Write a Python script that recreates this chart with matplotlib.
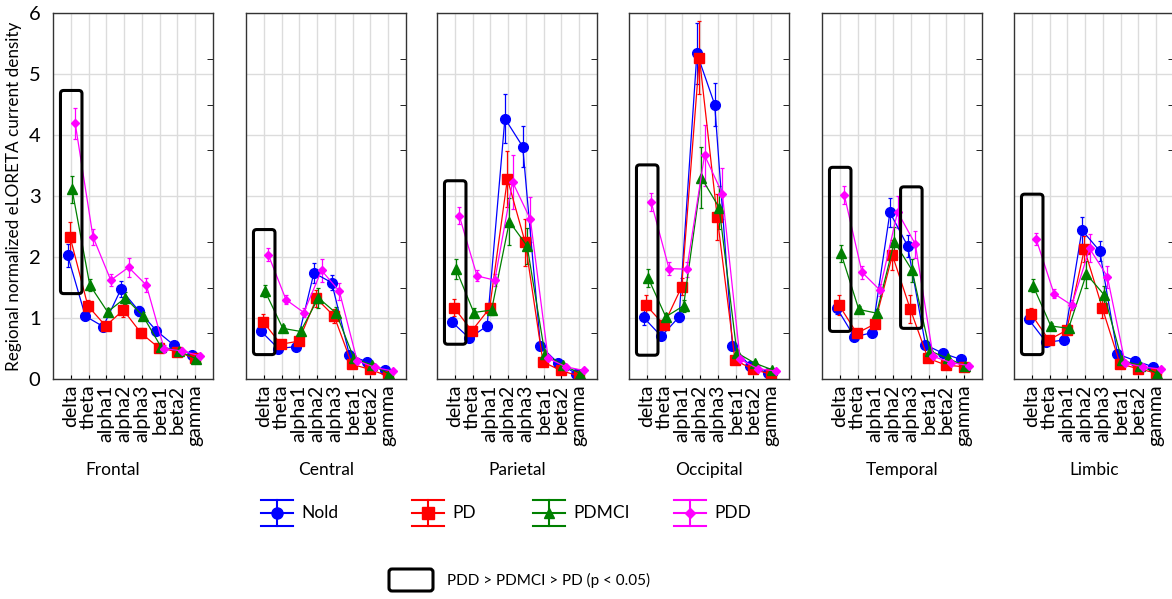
import numpy as np
import matplotlib
matplotlib.use("Agg")
import matplotlib.pyplot as plt
from matplotlib.patches import FancyBboxPatch

plt.rcParams['font.family'] = ['Lato', 'DejaVu Sans']

regions = ["Frontal", "Central", "Parietal", "Occipital", "Temporal", "Limbic"]
bands = ["delta", "theta", "alpha1", "alpha2", "alpha3", "beta1", "beta2", "gamma"]
groups = ["Nold", "PD", "PDMCI", "PDD"]

# means, one row per region
nold_mean = [
    [2.03, 1.03, 0.86, 1.47, 1.12, 0.79, 0.55, 0.40],
    [0.79, 0.50, 0.53, 1.74, 1.58, 0.39, 0.28, 0.14],
    [0.94, 0.67, 0.87, 4.27, 3.81, 0.54, 0.26, 0.09],
    [1.01, 0.70, 1.02, 5.34, 4.50, 0.54, 0.21, 0.10],
    [1.17, 0.69, 0.76, 2.73, 2.18, 0.56, 0.42, 0.32],
    [0.98, 0.60, 0.64, 2.44, 2.10, 0.41, 0.30, 0.20],
]
pd_mean = [
    [2.33, 1.20, 0.87, 1.13, 0.75, 0.51, 0.45, 0.34],
    [0.94, 0.57, 0.62, 1.32, 1.03, 0.24, 0.16, 0.05],
    [1.17, 0.79, 1.16, 3.28, 2.24, 0.28, 0.14, 0.05],
    [1.21, 0.89, 1.51, 5.27, 2.66, 0.31, 0.16, 0.08],
    [1.21, 0.75, 0.90, 2.03, 1.15, 0.34, 0.23, 0.20],
    [1.07, 0.64, 0.80, 2.13, 1.17, 0.25, 0.17, 0.10],
]
pdmci_mean = [
    [3.11, 1.54, 1.10, 1.33, 1.03, 0.53, 0.46, 0.33],
    [1.44, 0.83, 0.78, 1.33, 1.08, 0.34, 0.23, 0.08],
    [1.80, 1.09, 1.13, 2.58, 2.18, 0.41, 0.23, 0.09],
    [1.66, 1.02, 1.20, 3.30, 2.81, 0.43, 0.26, 0.15],
    [2.06, 1.14, 1.08, 2.25, 1.78, 0.46, 0.34, 0.21],
    [1.53, 0.87, 0.83, 1.72, 1.38, 0.31, 0.22, 0.09],
]
pdd_mean = [
    [4.19, 2.33, 1.62, 1.83, 1.54, 0.50, 0.46, 0.38],
    [2.04, 1.30, 1.09, 1.78, 1.44, 0.30, 0.19, 0.13],
    [2.68, 1.69, 1.62, 3.23, 2.62, 0.34, 0.20, 0.14],
    [2.90, 1.81, 1.80, 3.67, 3.04, 0.32, 0.17, 0.13],
    [3.02, 1.75, 1.46, 2.74, 2.21, 0.37, 0.27, 0.22],
    [2.29, 1.40, 1.21, 2.14, 1.68, 0.26, 0.20, 0.16],
]

# error bars (half length)
nold_err = [
    [0.19, 0.07, 0.05, 0.13, 0.08, 0.05, 0.04, 0.03],
    [0.06, 0.04, 0.05, 0.16, 0.12, 0.05, 0.03, 0.02],
    [0.07, 0.05, 0.08, 0.40, 0.33, 0.06, 0.03, 0.02],
    [0.12, 0.05, 0.08, 0.50, 0.36, 0.06, 0.03, 0.02],
    [0.10, 0.05, 0.05, 0.23, 0.18, 0.05, 0.03, 0.02],
    [0.07, 0.04, 0.05, 0.22, 0.17, 0.04, 0.03, 0.02],
]
pd_err = [
    [0.25, 0.10, 0.07, 0.12, 0.08, 0.05, 0.04, 0.03],
    [0.12, 0.06, 0.06, 0.14, 0.12, 0.04, 0.03, 0.02],
    [0.14, 0.07, 0.09, 0.46, 0.38, 0.05, 0.03, 0.02],
    [0.16, 0.08, 0.14, 0.60, 0.38, 0.05, 0.03, 0.02],
    [0.16, 0.06, 0.08, 0.25, 0.23, 0.05, 0.03, 0.02],
    [0.10, 0.05, 0.07, 0.21, 0.17, 0.04, 0.03, 0.02],
]
pdmci_err = [
    [0.22, 0.10, 0.06, 0.10, 0.07, 0.04, 0.03, 0.02],
    [0.10, 0.05, 0.05, 0.17, 0.10, 0.04, 0.03, 0.02],
    [0.16, 0.07, 0.08, 0.38, 0.29, 0.05, 0.03, 0.02],
    [0.15, 0.07, 0.10, 0.50, 0.35, 0.05, 0.03, 0.02],
    [0.14, 0.06, 0.07, 0.25, 0.19, 0.05, 0.03, 0.02],
    [0.11, 0.05, 0.06, 0.22, 0.15, 0.04, 0.03, 0.02],
]
pdd_err = [
    [0.25, 0.13, 0.10, 0.15, 0.12, 0.05, 0.04, 0.03],
    [0.10, 0.07, 0.07, 0.19, 0.14, 0.04, 0.03, 0.02],
    [0.14, 0.09, 0.10, 0.45, 0.37, 0.05, 0.03, 0.02],
    [0.15, 0.10, 0.12, 0.50, 0.42, 0.05, 0.03, 0.02],
    [0.15, 0.11, 0.10, 0.26, 0.22, 0.05, 0.03, 0.02],
    [0.10, 0.08, 0.08, 0.23, 0.18, 0.04, 0.03, 0.02],
]

# significance boxes: (region index, band from, band to, y low, y high)
sig_boxes = [
    (0, 0, 0, 1.40, 4.73),
    (1, 0, 0, 0.40, 2.45),
    (2, 0, 0, 0.57, 3.25),
    (3, 0, 0, 0.39, 3.51),
    (4, 0, 0, 0.78, 3.47),
    (4, 4, 4, 0.83, 3.15),
    (5, 0, 0, 0.40, 3.03),
]

means = [nold_mean, pd_mean, pdmci_mean, pdd_mean]
errs = [nold_err, pd_err, pdmci_err, pdd_err]
colors = ['#0000ff', '#ff0000', '#008000', '#ff00ff']
markers = ['o', 's', '^', 'D']
msizes = [7, 7, 6.5, 4.5]
offsets = [-0.18, -0.04, 0.07, 0.25]

W, H = 1172, 599
fig = plt.figure(figsize=(W / 100, H / 100), dpi=100)

lefts = [53, 246, 437, 629, 822, 1014]
title_x = [0.37, 0.5, 0.5, 0.5, 0.5, 0.5]
top_px, bot_px, aw = 13, 379, 160

x = np.arange(1, len(bands) + 1)
for r, name in enumerate(regions):
    ax = fig.add_axes([lefts[r] / W, 1 - bot_px / H, aw / W, (bot_px - top_px) / H])
    ax.set_xlim(0, 9)
    ax.set_ylim(0, 6)
    ax.grid(True, color='#dcdcdc', linewidth=1)
    ax.set_axisbelow(True)
    for g in range(4):
        ax.errorbar(x + offsets[g], means[g][r], yerr=errs[g][r], color=colors[g],
                    marker=markers[g], markersize=msizes[g], linewidth=0.9,
                    elinewidth=0.9, capsize=1.5, capthick=0.9)
    ax.set_xticks(x)
    ax.set_xticklabels(bands, rotation=90, fontsize=14)
    ax.set_yticks(range(7))
    if r == 0:
        ax.set_yticklabels([str(v) for v in range(7)], fontsize=14.5)
        ax.set_ylabel("Regional normalized eLORETA current density", fontsize=12.3, labelpad=5)
    else:
        ax.set_yticklabels([])
    ax.set_yticks(np.arange(0.75, 6, 0.75), minor=True)
    ax.tick_params(axis='y', which='major', length=0, pad=9)
    ax.tick_params(axis='y', which='minor', left=False, right=True, direction='in', length=4)
    ax.tick_params(axis='x', which='major', direction='in', length=3, pad=4)
    for s in ax.spines.values():
        s.set_color('#333333')
        s.set_linewidth(1)
    ax.text(title_x[r], -0.249, name, transform=ax.transAxes, ha='center', va='center', fontsize=12.5)

    for (ri, b0, b1, y0, y1) in sig_boxes:
        if ri != r:
            continue
        x0 = x[b0] - 0.58
        x1 = x[b1] + 0.63
        box = FancyBboxPatch((x0, y0), x1 - x0, y1 - y0,
                             boxstyle="round,pad=0,rounding_size=0.18",
                             mutation_aspect=17.8 / 61, fill=False,
                             edgecolor='black', linewidth=2.2, zorder=5)
        ax.add_patch(box)

# legend drawn in pixel space
lax = fig.add_axes([0, 0, 1, 1])
lax.set_xlim(0, W)
lax.set_ylim(H, 0)
lax.axis('off')
leg_x = [277, 428, 549, 690]
leg_y = 513
for g in range(4):
    cx = leg_x[g]
    c = colors[g]
    lax.plot([cx - 16, cx + 16], [leg_y, leg_y], color=c, linewidth=1.5)
    lax.plot([cx - 16, cx + 16], [leg_y - 13, leg_y - 13], color=c, linewidth=1.5)
    lax.plot([cx - 16, cx + 16], [leg_y + 13, leg_y + 13], color=c, linewidth=1.5)
    lax.plot([cx, cx], [leg_y - 13, leg_y + 13], color=c, linewidth=1.5)
    lax.plot([cx], [leg_y], marker=markers[g], color=c, markersize=msizes[g] + 1, linestyle='none')
    lax.text(cx + 24, leg_y, groups[g], ha='left', va='center', fontsize=12.5)

lax.add_patch(FancyBboxPatch((389, 569), 44, 22, boxstyle="round,pad=0,rounding_size=3",
                             fill=False, edgecolor='black', linewidth=2.2))
lax.text(447, 580, "PDD > PDMCI > PD (p < 0.05)", ha='left', va='center', fontsize=11)

fig.savefig("out.png", dpi=100)
